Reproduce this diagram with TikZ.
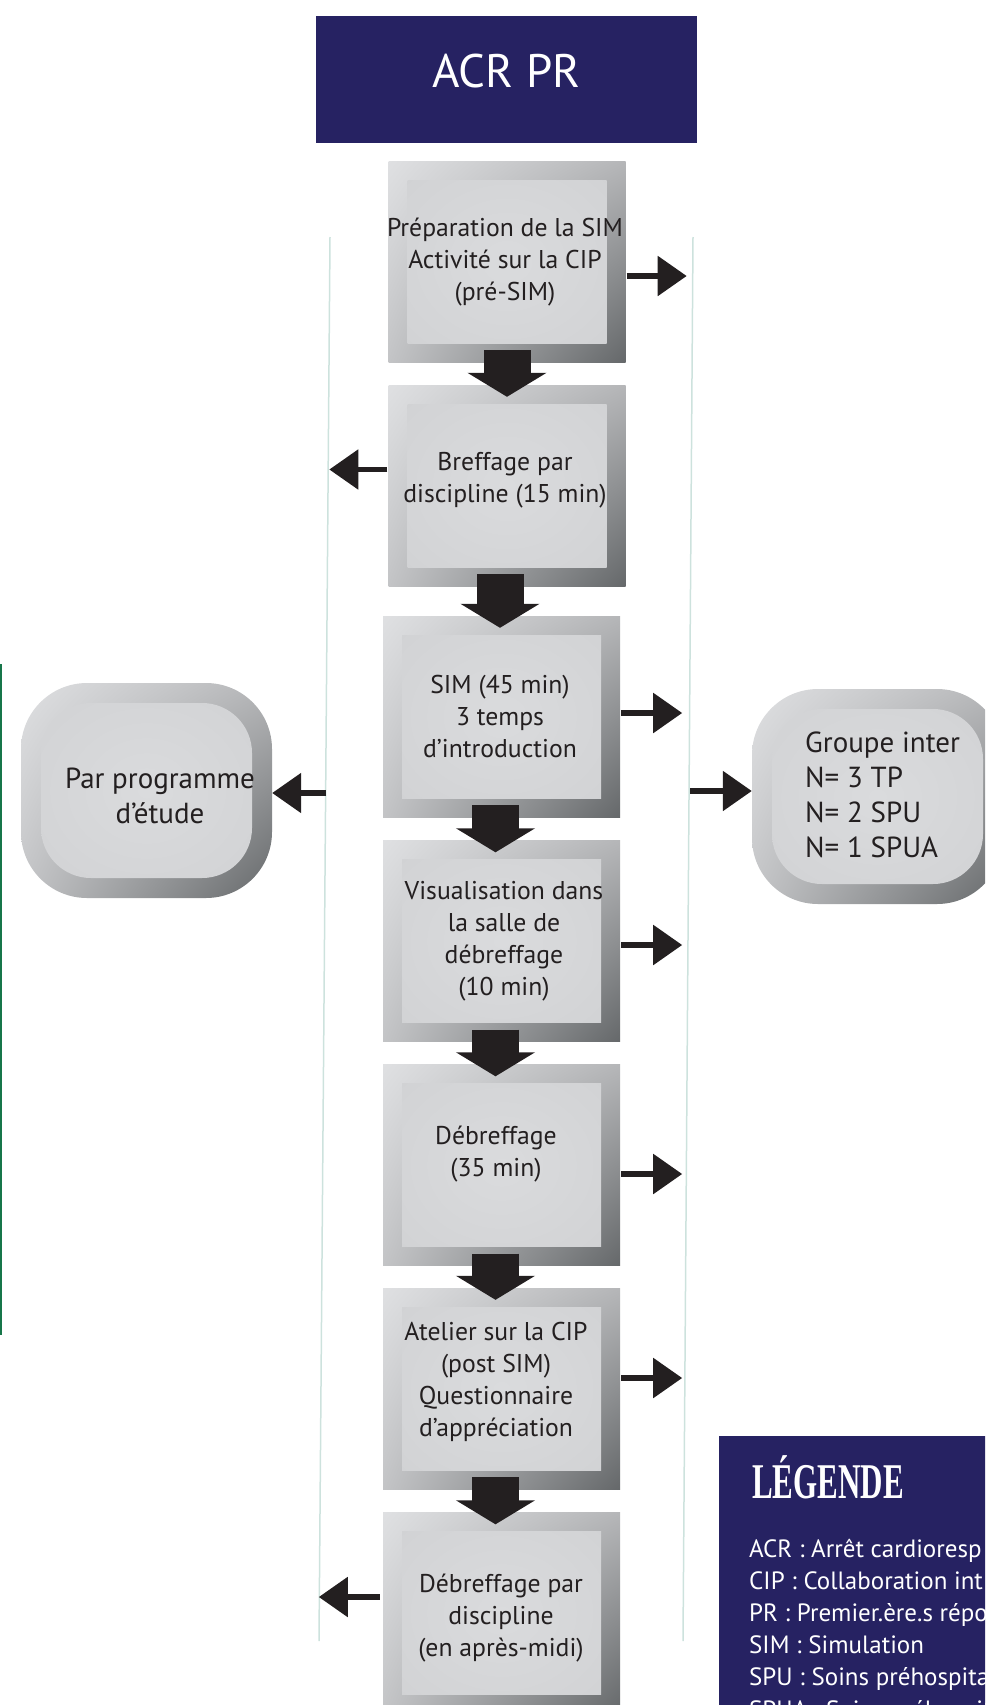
\documentclass[tikz,border=0pt]{standalone}
\usepackage{fontspec}
\usepackage{graphicx}
\setmainfont{PT Sans}
\newfontfamily\legfont{Liberation Serif}
\usetikzlibrary{arrows.meta,calc,shadings}
\definecolor{navy}{HTML}{262262}
\definecolor{ink}{HTML}{231F20}
\definecolor{guide}{HTML}{CDE2DD}
\definecolor{greenbar}{HTML}{17764A}
\definecolor{gTL}{HTML}{DFE0E2}
\definecolor{gTR}{HTML}{B5B6B8}
\definecolor{gBL}{HTML}{C3C4C6}
\definecolor{gBR}{HTML}{65686A}
\definecolor{vin}{HTML}{DADBDD}
\definecolor{vmid}{HTML}{D2D3D5}
\definecolor{vedge}{HTML}{C2C3C5}
\definecolor{vout}{HTML}{A5A6A8}
\definecolor{vcorner}{HTML}{9A9B9D}
\pgfdeclareradialshading{vignette}{\pgfpoint{0bp}{0bp}}{color(0bp)=(vin); color(28bp)=(vmid); color(42bp)=(vedge); color(50bp)=(vout); color(72bp)=(vcorner)}
\tikzset{
  stepbox/.style={rectangle, minimum width=237pt, minimum height=201pt, inner sep=0pt,
    shade, upper left=gTL, upper right=gTR, lower left=gBL, lower right=gBR,
    path picture={\shade[shading=vignette]
      ($(path picture bounding box.south west)+(19pt,19pt)$) rectangle
      ($(path picture bounding box.north east)+(-19pt,-19pt)$);}},
  sidebox/.style={rectangle, rounded corners=66pt, minimum width=251pt, minimum height=215pt, inner sep=0pt,
    shade, upper left=gTL, upper right=gTR, lower left=gBL, lower right=gBR,
    path picture={\shade[shading=vignette, rounded corners=50pt]
      ($(path picture bounding box.south west)+(20pt,20pt)$) rectangle
      ($(path picture bounding box.north east)+(-20pt,-20pt)$);}},
  boxtext/.style={text=ink, font=\fontsize{25.7}{32}\selectfont, align=center, inner sep=0pt},
  sidetext/.style={text=ink, font=\fontsize{29}{35}\selectfont, inner sep=0pt},
  legtext/.style={text=white, font=\fontsize{25}{31.6}\selectfont, inner sep=0pt, anchor=base west},
  flowarrow/.style={draw=ink, line width=47pt, -{Triangle[length=24pt,width=78pt]}},
  sidearrow/.style={draw=ink, line width=5.5pt, -{Triangle[length=29pt,width=39pt]}},
  guideline/.style={draw=guide, line width=1.5pt},
}
\begin{document}
\begin{tikzpicture}[x=1pt,y=-1pt]
\useasboundingbox (0,0) rectangle (985,1705);
\begin{scope}
\clip (0,0) rectangle (985,1705);
% guide lines
\coordinate (gl1) at (330,237);
\coordinate (gl2) at (319,1641);
\coordinate (gr1) at (693,237);
\coordinate (gr2) at (683,1641);
\draw[guideline] (gl1) -- (gl2);
\draw[guideline] (gr1) -- (gr2);
\coordinate (gb1) at (1,664);
\coordinate (gb2) at (1,1335);
\draw[draw=greenbar, line width=2pt] (gb1) -- (gb2);

% title
\node[fill=navy, minimum width=381pt, minimum height=127pt, inner sep=0pt] (title) at (506.5,79.5) {};
\node[text=white, font=\fontsize{47}{47}\selectfont, inner sep=0pt] (titletext) at (506.5,71) {ACR PR};

% step boxes
\node[stepbox] (b1) at (507,261.5) {};
\node[stepbox] (b2) at (507,485.5) {};
\node[stepbox] (b3) at (501.5,716.5) {};
\node[stepbox] (b4) at (501.5,941) {};
\node[stepbox] (b5) at (501.5,1165) {};
\node[stepbox] (b6) at (501.5,1388.5) {};
\node[stepbox] (b7) at (501.5,1613) {};

\node[boxtext] (t1) at (505,262) {Préparation de la SIM\\Activité sur la CIP\\(pré-SIM)};
\node[boxtext] (t2) at (505,480) {Breffage par\\discipline (15 min)};
\node[boxtext] (t3) at (500,716) {SIM (45 min)\\3 temps\\d’introduction};
\node[boxtext] (t4) at (504,941) {Visualisation dans\\la salle de\\débreffage\\(10 min)};
\node[boxtext] (t5) at (496,1154) {Débreffage\\(35 min)};
\node[boxtext] (t6) at (496,1382) {Atelier sur la CIP\\(post SIM)\\Questionnaire\\d’appréciation};
\node[boxtext] (t7) at (501,1618) {Débreffage par\\discipline\\(en après-midi)};

% side boxes
\node[sidebox] (L) at (146.5,790.5) {};
\node[sidetext, align=center] (Ltext) at (160,796) {Par programme\\d’étude};
\node[sidebox] (R) at (877.5,796.5) {};
\node[sidetext, align=left, anchor=west] (Rtext) at (805,795) {Groupe inter\\N= 3 TP\\N= 2 SPU\\N= 1 SPUA};

% flow arrows
\draw[flowarrow] ($(b1.south)+(0,-12)$) -- ($(b2.north)+(0,12)$);
\draw[flowarrow] ($(b2.south)+(-7,-12)$) -- ($(b3.north)+(-1.5,12)$);
\draw[flowarrow] ($(b3.south)+(-6,-12)$) -- ($(b4.north)+(-6,12)$);
\draw[flowarrow] ($(b4.south)+(-6,-12)$) -- ($(b5.north)+(-6,12)$);
\draw[flowarrow] ($(b5.south)+(-6,-12)$) -- ($(b6.north)+(-6,12)$);
\draw[flowarrow] ($(b6.south)+(-6,-12)$) -- ($(b7.north)+(-6,12)$);

% side arrows
\draw[sidearrow] ($(b1.east)+(1,14.5)$) -- ++(60,0);
\draw[sidearrow] ($(b3.east)+(1,-3.5)$) -- ++(61,0);
\draw[sidearrow] ($(b4.east)+(1,4)$) -- ++(61,0);
\draw[sidearrow] ($(b5.east)+(1,9)$) -- ++(61,0);
\draw[sidearrow] ($(b6.east)+(1,-10.5)$) -- ++(61,0);
\draw[sidearrow] ($(b2.west)+(-1,-16)$) -- ++(-58,0);
\draw[sidearrow] ($(b7.west)+(-3,-16)$) -- ++(-61,0);
\coordinate (lj) at (326,793);
\draw[sidearrow] (lj) -- (lj -| L.east);
\coordinate (rj) at (690,791);
\draw[sidearrow] (rj) -- (rj -| R.west);

% legend
\node[fill=navy, anchor=north west, minimum width=300pt, minimum height=290pt, inner sep=0pt] (legend) at (719,1436) {};
\node[text=white, inner sep=0pt, anchor=base west, font=\legfont\bfseries\fontsize{50}{50}\selectfont] (legtitle) at (752,1498) {\scalebox{0.62}[1]{LÉGENDE}};
\node[legtext] (l1) at (749,1557) {ACR : Arrêt cardioresp};
\node[legtext] (l2) at (749,1589.2) {CIP : Collaboration int};
\node[legtext] (l3) at (749,1621.4) {PR : Premier.ère.s répo};
\node[legtext] (l4) at (749,1653.6) {SIM : Simulation};
\node[legtext] (l5) at (749,1685.8) {SPU : Soins préhospita};
\node[legtext] (l6) at (749,1718) {SPUA : Soins préhospit};
\end{scope}
\end{tikzpicture}
\end{document}
